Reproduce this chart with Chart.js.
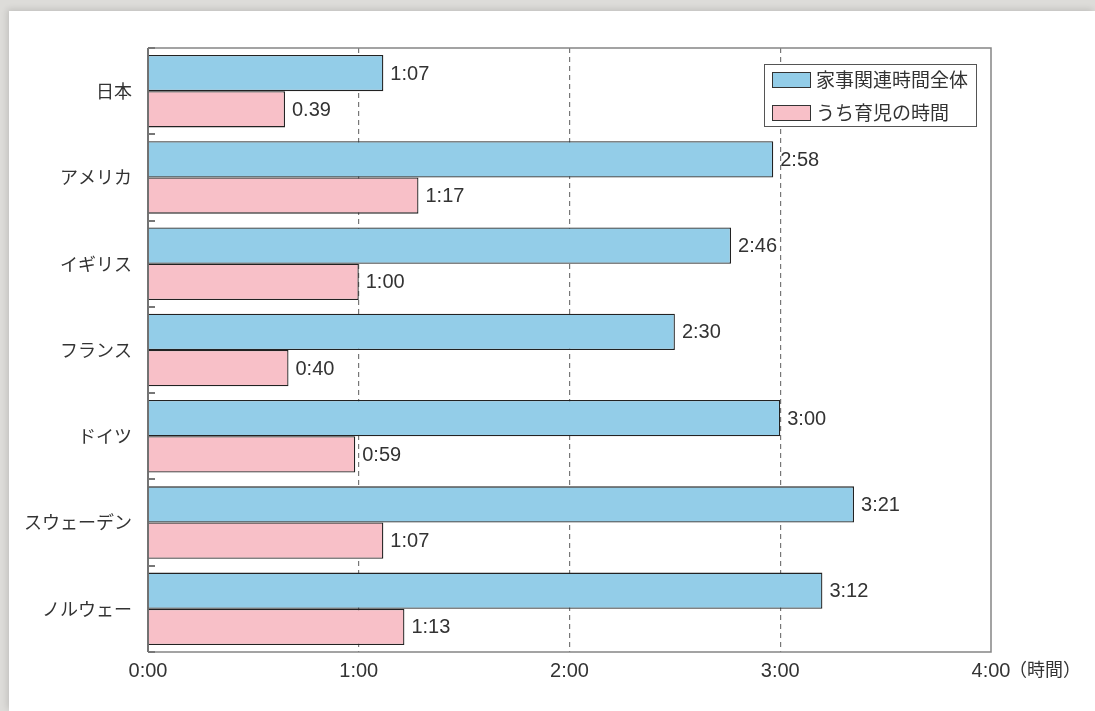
<!DOCTYPE html>
<html lang="ja">
<head>
<meta charset="utf-8">
<title>家事関連時間</title>
<script src="https://cdn.jsdelivr.net/npm/chart.js@4.4.1/dist/chart.umd.min.js"></script>
<style>
  html, body { margin: 0; padding: 0; }
  body {
    width: 1095px; height: 711px; overflow: hidden;
    background: #dddcd9; position: relative;
  }
  .card {
    position: absolute; left: 9px; top: 11px; right: 0; bottom: 0;
    background: #fff;
    box-shadow: -2px -2px 6px rgba(0,0,0,0.12);
  }
  #wrap { position: absolute; left: 0; top: 0; width: 1095px; height: 711px; }
</style>
</head>
<body>
<div class="card"></div>
<div id="wrap"><canvas id="chart"></canvas></div>
<script>
// minutes per day
const countries = ["日本", "アメリカ", "イギリス", "フランス", "ドイツ", "スウェーデン", "ノルウェー"];
const totalMinutes = [67, 178, 166, 150, 180, 201, 192];
const childcareMinutes = [39, 77, 60, 40, 59, 67, 73];
const totalLabels = ["1:07", "2:58", "2:46", "2:30", "3:00", "3:21", "3:12"];
const childcareLabels = ["0.39", "1:17", "1:00", "0:40", "0:59", "1:07", "1:13"];
const seriesNames = ["家事関連時間全体", "うち育児の時間"];
const axisUnit = "（時間）";

const FONT = "'Liberation Sans', 'Noto Sans CJK JP', sans-serif";
const JP_FONT = "'Noto Sans CJK JP', sans-serif";
const TEXT = "#333";
const BLUE = "#93cde8";
const PINK = "#f8c0c8";

// frame, category ticks, value labels, legend, axis unit
const decor = {
  id: "decor",
  afterDatasetsDraw(chart) {
    const { ctx, chartArea: a, scales } = chart;
    const y = scales.y;

    ctx.save();
    // frame
    ctx.strokeStyle = "#858585";
    ctx.lineWidth = 1.5;
    ctx.beginPath();
    ctx.moveTo(a.left, a.top);
    ctx.lineTo(a.right, a.top);
    ctx.lineTo(a.right, a.bottom);
    ctx.lineTo(a.left, a.bottom);
    ctx.stroke();
    ctx.strokeStyle = "#444";
    ctx.beginPath();
    ctx.moveTo(a.left, a.top);
    ctx.lineTo(a.left, a.bottom);
    ctx.stroke();

    // short marks between categories
    ctx.strokeStyle = "#777";
    ctx.lineWidth = 2;
    for (let i = 0; i <= countries.length; i++) {
      const py = Math.round(y.getPixelForValue(i - 0.5));
      ctx.beginPath();
      ctx.moveTo(a.left, py);
      ctx.lineTo(a.left + 7, py);
      ctx.stroke();
    }

    // value labels
    ctx.fillStyle = TEXT;
    ctx.font = "20px " + FONT;
    ctx.textAlign = "left";
    ctx.textBaseline = "middle";
    [totalLabels, childcareLabels].forEach((labels, di) => {
      chart.getDatasetMeta(di).data.forEach((bar, i) => {
        ctx.fillText(labels[i], bar.x + 7, bar.y + 1);
      });
    });

    // legend
    const lx = 764, ly = 64, lw = 212, lh = 62;
    ctx.fillStyle = "#fff";
    ctx.fillRect(lx, ly, lw, lh);
    ctx.strokeStyle = "#555";
    ctx.lineWidth = 1;
    ctx.strokeRect(lx + 0.5, ly + 0.5, lw, lh);
    const colors = [BLUE, PINK];
    ctx.font = "19px " + JP_FONT;
    seriesNames.forEach((name, i) => {
      const sy = 72 + i * 33;
      ctx.fillStyle = colors[i];
      ctx.fillRect(772, sy, 38, 15);
      ctx.strokeStyle = "#333";
      ctx.strokeRect(772.5, sy + 0.5, 38, 15);
      ctx.fillStyle = TEXT;
      ctx.fillText(name, 816, sy + 8);
    });

    // unit after the last tick
    const x = scales.x;
    ctx.font = "18px " + JP_FONT;
    ctx.fillText(axisUnit, x.getPixelForValue(240) + 18, a.bottom + 17);
    ctx.restore();
  }
};

new Chart(document.getElementById("chart"), {
  type: "bar",
  data: {
    labels: countries,
    datasets: [
      {
        label: seriesNames[0],
        data: totalMinutes,
        backgroundColor: BLUE,
        borderColor: "#222",
        borderWidth: 1.3
      },
      {
        label: seriesNames[1],
        data: childcareMinutes,
        backgroundColor: PINK,
        borderColor: "#222",
        borderWidth: 1.3
      }
    ]
  },
  options: {
    indexAxis: "y",
    responsive: true,
    maintainAspectRatio: false,
    animation: false,
    categoryPercentage: 0.84,
    barPercentage: 1.0,
    layout: { padding: { top: 48, right: 104, left: 0, bottom: 0 } },
    plugins: {
      legend: { display: false },
      tooltip: { enabled: false }
    },
    scales: {
      x: {
        min: 0,
        max: 240,
        afterFit(scale) { scale.height = 59; },
        ticks: {
          stepSize: 60,
          color: TEXT,
          padding: 7,
          font: { family: FONT, size: 20 },
          callback: v => (v / 60) + ":00"
        },
        grid: {
          drawTicks: false,
          lineWidth: 1.2,
          color: ctx => (ctx.tick && (ctx.tick.value === 0 || ctx.tick.value === 240)) ? "transparent" : "#777"
        },
        border: { display: false, dash: [5, 4] }
      },
      y: {
        afterFit(scale) { scale.width = 148; },
        ticks: {
          color: TEXT,
          padding: 8,
          font: { family: JP_FONT, size: 18 }
        },
        grid: { display: false },
        border: { display: false }
      }
    }
  },
  plugins: [decor]
});
</script>
</body>
</html>
